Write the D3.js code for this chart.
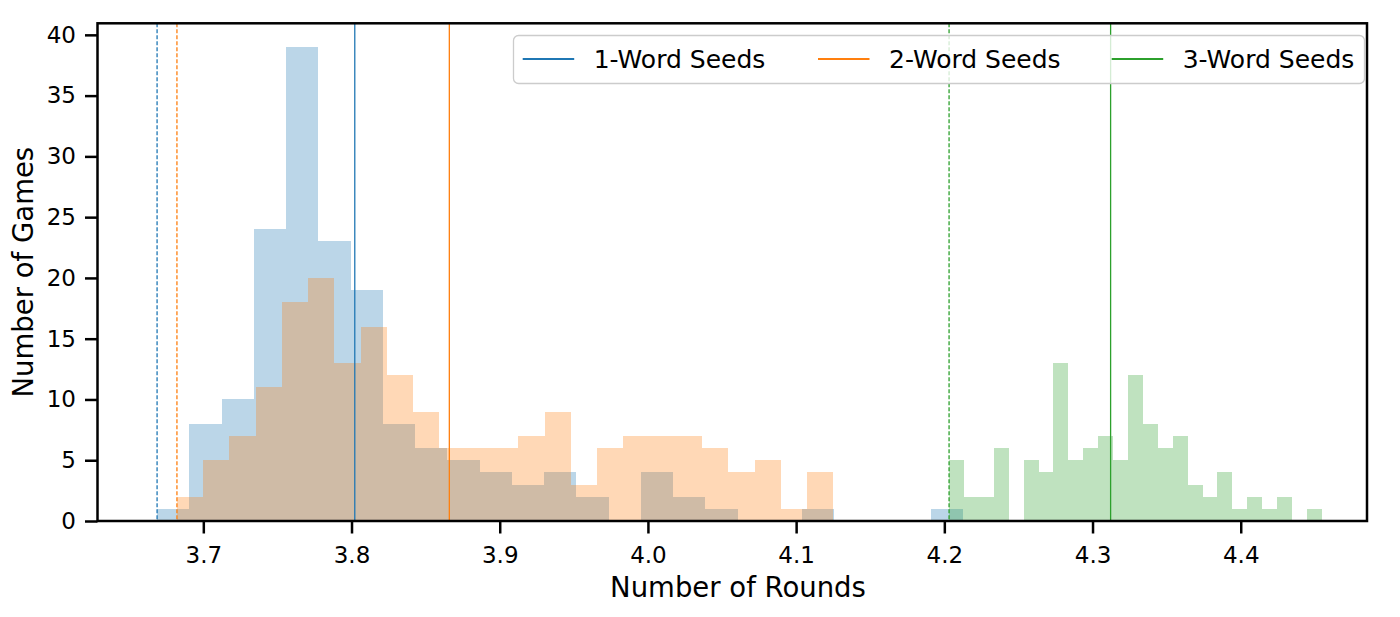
<!DOCTYPE html>
<html>
<head>
<meta charset="utf-8">
<script src="https://cdn.jsdelivr.net/npm/d3@7"></script>
<style>
body { margin: 0; background: #fff; }
text { font-family: "DejaVu Sans", sans-serif; fill: #000; }
</style>
</head>
<body>
<svg id="chart" width="1400" height="617"></svg>
<script>
// series labels and colours (tab10)
var seeds = ["1-Word Seeds", "2-Word Seeds", "3-Word Seeds"];
var colors = ["#1f77b4", "#ff7f0e", "#2ca02c"];

// histogram range of each series (25 equal bins each)
var binStart = [3.6688, 3.6822, 4.2032];
var binEnd = [4.2128, 4.1251, 4.4547];

// counts per bin
var counts1 = [1, 8, 10, 24, 39, 23, 19, 8, 6, 5, 4, 3, 4, 2, 0, 4, 2, 1, 0, 0, 1, 0, 0, 0, 1];
var counts2 = [2, 5, 7, 11, 18, 20, 13, 16, 12, 9, 6, 6, 6, 7, 9, 3, 6, 7, 7, 7, 6, 4, 5, 1, 4];
var counts3 = [5, 2, 2, 6, 0, 5, 4, 13, 5, 6, 7, 5, 12, 8, 6, 7, 3, 2, 4, 1, 2, 1, 2, 0, 1];
var allCounts = [counts1, counts2, counts3];

// vertical reference lines: dashed = minimum, solid = mean
var minLines = [3.6688, 3.6822, 4.2032];
var meanLines = [3.8022, 3.866, 4.3122];

var xTicks = [3.7, 3.8, 3.9, 4.0, 4.1, 4.2, 4.3, 4.4];
var yTicks = [0, 5, 10, 15, 20, 25, 30, 35, 40];

var pLeft = 97.5, pRight = 1367, pTop = 23.3, pBottom = 521;

var x = d3.scaleLinear()
    .domain([3.6286, 4.4852])
    .range([pLeft, pRight]);
var y = d3.scaleLinear()
    .domain([0, 40.95])
    .range([pBottom, pTop]);

var svg = d3.select("#chart");

// histograms, drawn in order so that later ones overlay earlier ones
allCounts.forEach(function(counts, s) {
    var w = (binEnd[s] - binStart[s]) / counts.length;
    var bars = counts.map(function(c, i) {
        return { x0: binStart[s] + i * w, x1: binStart[s] + (i + 1) * w, n: c };
    }).filter(function(d) { return d.n > 0; });

    svg.append("g")
        .selectAll("rect")
        .data(bars)
        .enter().append("rect")
        .attr("x", function(d) { return Math.round(x(d.x0)); })
        .attr("width", function(d) { return Math.round(x(d.x1)) - Math.round(x(d.x0)); })
        .attr("y", function(d) { return y(d.n); })
        .attr("height", function(d) { return y(0) - y(d.n); })
        .attr("shape-rendering", "crispEdges")
        .style("fill", colors[s])
        .style("fill-opacity", 0.3);
});

// min (dashed) and mean (solid) lines
var lines = svg.append("g");
seeds.forEach(function(name, s) {
    lines.append("line")
        .attr("x1", x(minLines[s])).attr("x2", x(minLines[s]))
        .attr("y1", pTop).attr("y2", pBottom)
        .style("stroke", colors[s])
        .style("stroke-width", 1.3)
        .style("stroke-dasharray", "4,2");
    lines.append("line")
        .attr("x1", x(meanLines[s])).attr("x2", x(meanLines[s]))
        .attr("y1", pTop).attr("y2", pBottom)
        .style("stroke", colors[s])
        .style("stroke-width", 1.3);
});

// axes
var xAxis = svg.append("g")
    .attr("transform", "translate(0," + pBottom + ")")
    .call(d3.axisBottom(x).tickValues(xTicks).tickSize(12.5).tickFormat(d3.format(".1f")));
xAxis.select(".domain").remove();
xAxis.selectAll("line").style("stroke", "#000").style("stroke-width", 2.5);
xAxis.selectAll("text")
    .attr("y", 42.3).attr("dy", 0)
    .style("font-size", "23px")
    .style("fill", "#000");

var yAxis = svg.append("g")
    .attr("transform", "translate(" + pLeft + ",0)")
    .call(d3.axisLeft(y).tickValues(yTicks).tickSize(12.5).tickPadding(9));
yAxis.select(".domain").remove();
yAxis.selectAll("line").style("stroke", "#000").style("stroke-width", 2.5);
yAxis.selectAll("text")
    .style("font-size", "23px")
    .style("fill", "#000");

// frame
svg.append("rect")
    .attr("x", pLeft).attr("y", pTop)
    .attr("width", pRight - pLeft).attr("height", pBottom - pTop)
    .style("fill", "none")
    .style("stroke", "#000")
    .style("stroke-width", 2.5);

// axis labels
svg.append("text")
    .attr("x", 738)
    .attr("y", 596.5)
    .style("text-anchor", "middle")
    .style("font-size", "27.5px")
    .text("Number of Rounds");

svg.append("text")
    .attr("transform", "translate(33," + ((pTop + pBottom) / 2) + ") rotate(-90)")
    .style("text-anchor", "middle")
    .style("font-size", "27.5px")
    .text("Number of Games");

// legend
var legend = svg.append("g");
legend.append("rect")
    .attr("x", 513.5).attr("y", 35.5)
    .attr("width", 851).attr("height", 48)
    .attr("rx", 5).attr("ry", 5)
    .style("fill", "#fff")
    .style("fill-opacity", 0.8)
    .style("stroke", "#cccccc")
    .style("stroke-width", 1.3);

var handleX = [522.7, 818, 1111.7];
seeds.forEach(function(name, s) {
    legend.append("line")
        .attr("x1", handleX[s]).attr("x2", handleX[s] + 51.5)
        .attr("y1", 59).attr("y2", 59)
        .style("stroke", colors[s])
        .style("stroke-width", 2);
    legend.append("text")
        .attr("x", handleX[s] + 71)
        .attr("y", 68)
        .style("font-size", "25px")
        .text(name);
});
</script>
</body>
</html>
